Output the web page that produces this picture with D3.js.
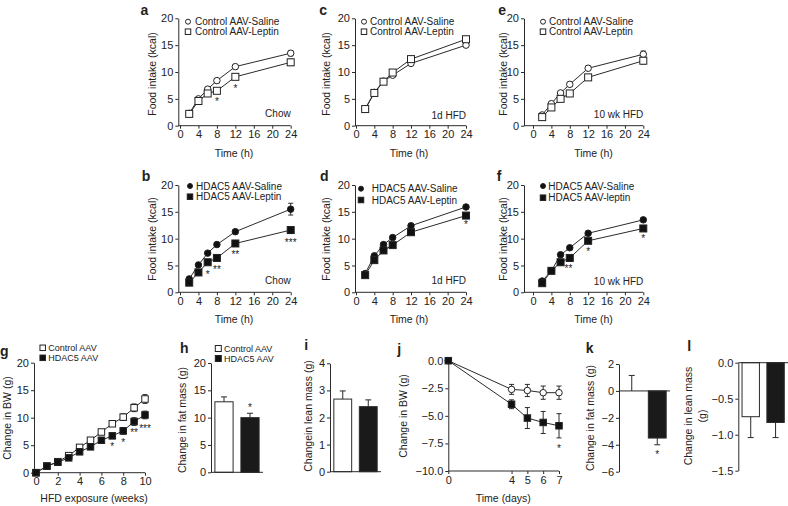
<!DOCTYPE html>
<html><head><meta charset="utf-8">
<script src="https://cdn.jsdelivr.net/npm/d3@7"></script>
<style>
body{margin:0;background:#fff;}
svg text{font-family:"Liberation Sans",Arial,Helvetica,sans-serif;fill:#222;}
</style></head><body>
<svg id="chart" width="788" height="506"></svg>
<script>
// ---------------- DATA ----------------
const hours = [2, 4, 6, 8, 12, 24];
const hourTicks = [0, 4, 8, 12, 16, 20, 24];
const foodTicks = [0, 5, 10, 15, 20];

const aSaline = [2.3, 5.0, 6.8, 8.4, 11.0, 13.5];
const aSalineErr = [0.2, 0.3, 0.3, 0.4, 0.4, 0.5];
const aLeptin = [2.2, 4.6, 6.0, 6.5, 9.1, 11.8];
const aLeptinErr = [0.2, 0.3, 0.3, 0.3, 0.3, 0.6];
const aStars = [{x: 8, y: 4.7, s: "*"}, {x: 12, y: 7.2, s: "*"}];

const bSaline = [2.5, 5.1, 7.3, 8.9, 11.3, 15.5];
const bSalineErr = [0.2, 0.2, 0.3, 0.4, 0.4, 1.1];
const bLeptin = [1.8, 3.7, 5.6, 6.4, 9.1, 11.6];
const bLeptinErr = [0.2, 0.2, 0.3, 0.3, 0.3, 0.6];
const bStars = [{x: 6, y: 3.6, s: "*"}, {x: 8, y: 4.6, s: "**"}, {x: 12, y: 7.3, s: "**"}, {x: 24, y: 9.6, s: "***"}];

const cSaline = [3.1, 6.2, 8.3, 9.4, 11.6, 15.0];
const cSalineErr = [0.2, 0.3, 0.3, 0.3, 0.3, 0.3];
const cLeptin = [3.1, 6.1, 8.2, 9.9, 12.4, 16.1];
const cLeptinErr = [0.2, 0.3, 0.3, 0.4, 0.4, 0.5];

const dSaline = [3.5, 6.8, 8.9, 10.2, 12.4, 15.9];
const dSalineErr = [0.2, 0.3, 0.3, 0.4, 0.4, 0.3];
const dLeptin = [3.2, 6.0, 7.8, 8.8, 11.2, 14.3];
const dLeptinErr = [0.2, 0.3, 0.3, 0.3, 0.3, 0.3];
const dStars = [{x: 24, y: 12.9, s: "*"}];

const eSaline = [2.0, 4.1, 6.1, 7.7, 10.7, 13.3];
const eSalineErr = [0.2, 0.3, 0.3, 0.4, 0.4, 0.6];
const eLeptin = [1.6, 3.4, 5.0, 6.0, 9.0, 12.1];
const eLeptinErr = [0.2, 0.3, 0.3, 0.3, 0.3, 0.6];

const fSaline = [2.1, 4.0, 7.0, 8.3, 11.0, 13.5];
const fSalineErr = [0.2, 0.2, 0.3, 0.3, 0.3, 0.4];
const fLeptin = [1.7, 4.0, 5.6, 6.4, 9.6, 11.9];
const fLeptinErr = [0.2, 0.2, 0.3, 0.3, 0.3, 0.3];
const fStars = [{x: 7.7, y: 4.7, s: "**"}, {x: 12, y: 7.9, s: "*"}, {x: 24, y: 10.4, s: "*"}];

const weeks = [0, 1, 2, 3, 4, 5, 6, 7, 8, 9, 10];
const weekTicks = [0, 2, 4, 6, 8, 10];
const gControl = [0, 1.2, 2.0, 3.1, 4.6, 5.9, 7.4, 8.9, 10.1, 11.8, 13.4];
const gControlErr = [0, 0.2, 0.2, 0.3, 0.3, 0.3, 0.4, 0.5, 0.6, 0.7, 0.8];
const gHdac5 = [0, 1.2, 1.9, 2.7, 3.8, 4.7, 5.9, 6.7, 7.6, 9.3, 10.5];
const gHdac5Err = [0, 0.2, 0.2, 0.3, 0.3, 0.3, 0.4, 0.5, 0.6, 0.7, 0.7];
const gStars = [{x: 7, y: 5.0, s: "*"}, {x: 8, y: 5.8, s: "*"}, {x: 9, y: 7.5, s: "**"}, {x: 10, y: 8.3, s: "***"}];

const groups = ["Control AAV", "HDAC5 AAV"];
const hFat = [12.9, 10.0];
const hFatErr = [0.9, 0.8];
const hStars = [{i: 1, y: 12.2, s: "*"}];
const iLean = [2.68, 2.4];
const iLeanErr = [0.3, 0.25];

const days = [0, 4, 5, 6, 7];
const dayTicks = [0, 4, 5, 6, 7];
const jControl = [0, -2.6, -2.7, -2.9, -2.9];
const jControlErr = [0, 0.45, 0.55, 0.6, 0.6];
const jHdac5 = [0, -3.95, -5.2, -5.6, -5.9];
const jHdac5Err = [0, 0.4, 0.95, 1.0, 1.1];
const jStars = [{x: 7, y: -7.8, s: "*"}];

const kFat = [0, -3.5];
const kFatErr = [1.15, 0.5];
const kStars = [{i: 1, y: -4.6, s: "*"}];
const lLean = [-0.75, -0.83];
const lLeanErr = [0.29, 0.21];

// ---------------- DRAWING ----------------
const svg = d3.select("#chart");
const INK = "#2a2a2a";

function txt(g, x, y, s, o = {}) {
  const t = g.append("text").attr("x", x).attr("y", y).text(s)
    .attr("font-size", o.size || 10)
    .attr("fill", "#222")
    .attr("text-anchor", o.anchor || "start");
  if (o.bold) t.attr("font-weight", "bold");
  if (o.rot) t.attr("transform", `rotate(-90,${x},${y})`);
  if (o.mid) t.attr("dominant-baseline", "central");
  return t;
}

function marker(g, shape, filled, cx, cy, sz) {
  if (shape === "circle") {
    g.append("circle").attr("cx", cx).attr("cy", cy).attr("r", sz / 2)
      .attr("fill", filled ? "#111" : "#fff").attr("stroke", "#222").attr("stroke-width", 1);
  } else {
    g.append("rect").attr("x", cx - sz / 2).attr("y", cy - sz / 2).attr("width", sz).attr("height", sz)
      .attr("fill", filled ? "#111" : "#fff").attr("stroke", "#222").attr("stroke-width", 1);
  }
}

function errBar(g, x, y1, y2, cap) {
  g.append("line").attr("x1", x).attr("x2", x).attr("y1", y1).attr("y2", y2).attr("stroke", INK);
  g.append("line").attr("x1", x - cap).attr("x2", x + cap).attr("y1", y2).attr("y2", y2).attr("stroke", INK);
}

function yAxis(g, y, axisX, ticks, fmt) {
  const ax = g.append("g").attr("transform", `translate(${axisX},0)`).attr("color", INK)
    .call(d3.axisLeft(y).tickValues(ticks).tickSize(3).tickPadding(2).tickSizeOuter(0).tickFormat(fmt));
  ax.selectAll("text").attr("font-size", 11);
  ax.attr("font-family", null);
  return ax;
}

function xAxis(g, x, yPos, axisX, ticks, fmt) {
  const ax = g.append("g").attr("transform", `translate(0,${yPos})`).attr("color", INK)
    .call(d3.axisBottom(x).tickValues(ticks).tickSize(3).tickPadding(2).tickSizeOuter(0).tickFormat(fmt));
  ax.select(".domain").remove();
  ax.selectAll("text").attr("font-size", 11);
  ax.attr("font-family", null);
  g.append("line").attr("x1", axisX).attr("x2", x.range()[1]).attr("y1", yPos).attr("y2", yPos).attr("stroke", INK);
}

function linePanel(c) {
  const g = svg.append("g");
  const x = d3.scaleLinear().domain(c.xDomain).range(c.xPix);
  const y = d3.scaleLinear().domain(c.yDomain).range(c.yPix);
  yAxis(g, y, c.axisX, c.yTicks, c.yFmt || d3.format("d"));
  xAxis(g, x, c.yPix[0], c.axisX, c.xTicks, d3.format("d"));
  const line = d3.line().x(d => x(d[0])).y(d => y(d[1]));
  c.series.forEach(s => {
    const pts = c.xs.map((t, i) => [t, s.v[i]]);
    g.append("path").attr("d", line(pts)).attr("fill", "none").attr("stroke", INK).attr("stroke-width", 1);
  });
  c.series.forEach(s => {
    c.xs.forEach((t, i) => {
      const e = s.e[i];
      if (e > 0) {
        errBar(g, x(t), y(s.v[i]), y(s.v[i] + e), 2.5);
        errBar(g, x(t), y(s.v[i]), y(s.v[i] - e), 2.5);
      }
    });
  });
  c.series.forEach(s => {
    c.xs.forEach((t, i) => marker(g, s.shape, s.filled, x(t), y(s.v[i]), s.shape === "circle" ? (c.cs || 6.5) : (c.ss || 7)));
  });
  (c.stars || []).forEach(st => txt(g, x(st.x), y(st.y) + 5, st.s, {anchor: "middle", size: 10}));
  if (c.tag) txt(g, x(c.xDomain[1]), c.tag.y, c.tag.t, {anchor: "end", size: 10, mid: true});
  if (c.legend) {
    c.legend.items.forEach((it, k) => {
      const ly = c.legend.y + k * c.legend.dy;
      marker(g, it.shape, it.filled, c.legend.x, ly, it.shape === "circle" ? 5 : 5.5);
      txt(g, c.legend.tx, ly, it.label, {size: c.legend.size || 10, mid: true});
    });
  }
  txt(g, c.letter.x, c.letter.y, c.letter.t, {bold: true, size: 14});
  txt(g, c.ylab.x, c.ylab.y, c.ylab.t, {anchor: "middle", rot: true, size: 10.5, mid: true});
  txt(g, c.xlab.x, c.xlab.y, c.xlab.t, {anchor: "middle", size: 10.5, mid: true});
}

function barPanel(c) {
  const g = svg.append("g");
  const x = d3.scaleBand().domain(groups).range(c.xPix).paddingInner(0.3).paddingOuter(0.15);
  const y = d3.scaleLinear().domain(c.yDomain).range(c.yPix);
  yAxis(g, y, c.axisX, c.yTicks, c.yFmt || d3.format("d"));
  groups.forEach((gr, i) => {
    const v = c.v[i];
    const y0 = y(0), y1 = y(v);
    const dir = v >= 0 ? 1 : -1;
    errBar(g, x(gr) + x.bandwidth() / 2, y1, y(v + dir * c.e[i]), 3);
    if (Math.abs(y1 - y0) > 0.5) {
      g.append("rect").attr("x", x(gr)).attr("width", x.bandwidth())
        .attr("y", Math.min(y0, y1)).attr("height", Math.abs(y1 - y0))
        .attr("fill", i === 0 ? "#fff" : "#1a1a1a").attr("stroke", INK).attr("stroke-width", 1);
    }
  });
  g.append("line").attr("x1", c.axisX).attr("x2", c.xPix[1]).attr("y1", y(0)).attr("y2", y(0)).attr("stroke", INK);
  (c.stars || []).forEach(st => txt(g, x(groups[st.i]) + x.bandwidth() / 2, y(st.y) + 5, st.s, {anchor: "middle", size: 10}));
  if (c.legend) {
    groups.forEach((gr, k) => {
      const ly = c.legend.y + k * c.legend.dy;
      marker(g, "square", k === 1, c.legend.x, ly, 6);
      txt(g, c.legend.tx, ly, gr, {size: 9, mid: true});
    });
  }
  txt(g, c.letter.x, c.letter.y, c.letter.t, {bold: true, size: 14});
  c.ylab.t.forEach((t, k) => txt(g, c.ylab.x + k * 14, c.ylab.y, t, {anchor: "middle", rot: true, size: 10.5, mid: true}));
}

const salineC = "Control AAV-Saline", leptinC = "Control AAV-Leptin";
const ctrlLegend = [{label: salineC, shape: "circle", filled: false}, {label: leptinC, shape: "square", filled: false}];
const hdLegend = [{label: "HDAC5 AAV-Saline", shape: "circle", filled: true}, {label: "HDAC5 AAV-Leptin", shape: "square", filled: true}];
const hdLegendF = [{label: "HDAC5 AAV-Saline", shape: "circle", filled: true}, {label: "HDAC5 AAV-leptin", shape: "square", filled: true}];
const FI = "Food intake (kcal)", TH = "Time (h)";

function foodSeries(sv, se, lv, le, filled) {
  return [{v: sv, e: se, shape: "circle", filled}, {v: lv, e: le, shape: "square", filled}];
}

// Row 1
linePanel({xPix: [180, 290.7], yPix: [125.7, 18.3], axisX: 178.3, xDomain: [0, 24], yDomain: [0, 20],
  xTicks: hourTicks, yTicks: foodTicks, xs: hours, series: foodSeries(aSaline, aSalineErr, aLeptin, aLeptinErr, false),
  stars: aStars, tag: {t: "Chow", y: 113}, legend: {x: 188, tx: 195, y: 21.7, dy: 10, items: ctrlLegend},
  letter: {t: "a", x: 140.5, y: 14.5}, ylab: {t: FI, x: 152, y: 74}, xlab: {t: TH, x: 234, y: 152.7}});
linePanel({xPix: [356, 466], yPix: [125.7, 18.3], axisX: 355, xDomain: [0, 24], yDomain: [0, 20],
  xTicks: hourTicks, yTicks: foodTicks, xs: hours, series: foodSeries(cSaline, cSalineErr, cLeptin, cLeptinErr, false),
  tag: {t: "1d HFD", y: 115}, legend: {x: 364, tx: 370, y: 21.7, dy: 10, items: ctrlLegend},
  letter: {t: "c", x: 319.3, y: 14.5}, ylab: {t: FI, x: 326, y: 74}, xlab: {t: TH, x: 409, y: 152.7}});
linePanel({xPix: [533, 643.3], yPix: [125.7, 18.3], axisX: 524, xDomain: [0, 24], yDomain: [0, 20],
  xTicks: hourTicks, yTicks: foodTicks, xs: hours, series: foodSeries(eSaline, eSalineErr, eLeptin, eLeptinErr, false),
  tag: {t: "10 wk HFD", y: 114}, legend: {x: 543, tx: 549, y: 21.7, dy: 10, items: ctrlLegend},
  letter: {t: "e", x: 498.3, y: 14.5}, ylab: {t: FI, x: 503.3, y: 74}, xlab: {t: TH, x: 593.5, y: 152.7}});

// Row 2
linePanel({xPix: [180, 290.7], yPix: [292.3, 185], axisX: 178.3, xDomain: [0, 24], yDomain: [0, 20],
  xTicks: hourTicks, yTicks: foodTicks, xs: hours, series: foodSeries(bSaline, bSalineErr, bLeptin, bLeptinErr, true),
  stars: bStars, tag: {t: "Chow", y: 280}, legend: {x: 190, tx: 196, y: 186, dy: 10.7, items: hdLegend},
  letter: {t: "b", x: 141.7, y: 180.5}, ylab: {t: FI, x: 152, y: 239}, xlab: {t: TH, x: 234, y: 319}});
linePanel({xPix: [356, 466], yPix: [292.3, 185], axisX: 355, xDomain: [0, 24], yDomain: [0, 20],
  xTicks: hourTicks, yTicks: foodTicks, xs: hours, series: foodSeries(dSaline, dSalineErr, dLeptin, dLeptinErr, true),
  stars: dStars, tag: {t: "1d HFD", y: 280}, legend: {x: 361, tx: 371.7, y: 188.7, dy: 11.3, items: hdLegend},
  letter: {t: "d", x: 320, y: 180.5}, ylab: {t: FI, x: 326, y: 239}, xlab: {t: TH, x: 409, y: 319}});
linePanel({xPix: [533, 643.3], yPix: [292.3, 185], axisX: 524, xDomain: [0, 24], yDomain: [0, 20],
  xTicks: hourTicks, yTicks: foodTicks, xs: hours, series: foodSeries(fSaline, fSalineErr, fLeptin, fLeptinErr, true),
  stars: fStars, tag: {t: "10 wk HFD", y: 281.7}, legend: {x: 543, tx: 548.3, y: 186, dy: 11.7, items: hdLegendF},
  letter: {t: "f", x: 496.7, y: 180.7}, ylab: {t: FI, x: 503.3, y: 239}, xlab: {t: TH, x: 593.5, y: 319}});

// Row 3
linePanel({xPix: [36, 145], yPix: [472.7, 362.7], axisX: 34, xDomain: [0, 10], yDomain: [0, 20],
  xTicks: weekTicks, yTicks: foodTicks, xs: weeks, cs: 6, ss: 6.5,
  series: [{v: gControl, e: gControlErr, shape: "square", filled: false}, {v: gHdac5, e: gHdac5Err, shape: "square", filled: true}],
  stars: gStars, legend: {x: 42.7, tx: 48.3, y: 347.8, dy: 10, size: 9,
    items: [{label: "Control AAV", shape: "square", filled: false}, {label: "HDAC5 AAV", shape: "square", filled: true}]},
  letter: {t: "g", x: 0, y: 356}, ylab: {t: "Change in BW (g)", x: 7, y: 418}, xlab: {t: "HFD exposure (weeks)", x: 94, y: 498.3}});

barPanel({xPix: [211, 263], yPix: [472.3, 363], axisX: 211, yDomain: [0, 20], yTicks: foodTicks,
  v: hFat, e: hFatErr, stars: hStars, legend: {x: 218.3, tx: 224, y: 348.5, dy: 10},
  letter: {t: "h", x: 180, y: 353.3}, ylab: {t: ["Change in fat mass (g)"], x: 181.7, y: 420}});
barPanel({xPix: [330, 381], yPix: [471.7, 363.3], axisX: 330, yDomain: [0, 4], yTicks: [0, 1, 2, 3, 4],
  v: iLean, e: iLeanErr,
  letter: {t: "i", x: 304.3, y: 350}, ylab: {t: ["Changein lean mass (g)"], x: 308.3, y: 416}});

linePanel({xPix: [448.3, 559], yPix: [471, 360.7], axisX: 448.3, xDomain: [0, 7], yDomain: [-10, 0],
  xTicks: dayTicks, yTicks: [0, -2.5, -5, -7.5, -10], yFmt: d3.format(".1f"), xs: days, cs: 6.5, ss: 6.5,
  series: [{v: jControl, e: jControlErr, shape: "circle", filled: false}, {v: jHdac5, e: jHdac5Err, shape: "square", filled: true}],
  stars: jStars, letter: {t: "j", x: 397.3, y: 354.3}, ylab: {t: "Change in BW (g)", x: 403.3, y: 416},
  xlab: {t: "Time (days)", x: 503.3, y: 497.7}});

barPanel({xPix: [619, 670], yPix: [471.7, 364], axisX: 619, yDomain: [-6, 2], yTicks: [2, 0, -2, -4, -6],
  v: kFat, e: kFatErr, stars: kStars,
  letter: {t: "k", x: 585.7, y: 353.3}, ylab: {t: ["Change in fat mass (g)"], x: 590, y: 418}});
barPanel({xPix: [738.3, 788], yPix: [470.7, 362.7], axisX: 738.3, yDomain: [-1.5, 0], yTicks: [0, -0.5, -1, -1.5],
  yFmt: d3.format(".1f"), v: lLean, e: lLeanErr,
  letter: {t: "l", x: 687.3, y: 351}, ylab: {t: ["Change in lean mass", "(g)"], x: 688.3, y: 416}});
</script>
</body></html>
